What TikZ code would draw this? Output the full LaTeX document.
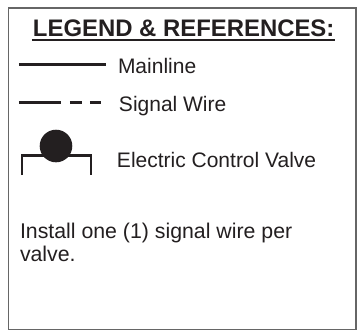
\documentclass[tikz,border=0pt]{standalone}
\usepackage{fontspec}
\setmainfont{Liberation Sans}
\definecolor{ink}{HTML}{231F20}
\tikzset{
  lbl/.style={anchor=base west,inner sep=0pt,outer sep=0pt,text=ink,font=\fontsize{21}{25}\selectfont},
  notetext/.style={lbl,font=\fontsize{21.3}{25}\selectfont},
  ttl/.style={anchor=base west,inner sep=0pt,outer sep=0pt,text=ink,font=\fontsize{23.9}{28}\selectfont\bfseries},
  ln/.style={draw=ink,line width=2.3pt},
  frm/.style={draw=black!60,line width=1.2pt}
}
\begin{document}
\begin{tikzpicture}[x=1pt,y=-1pt]
\useasboundingbox (0,0) rectangle (360,333);
\fill[white] (0,0) rectangle (360,333);
\draw[frm] (8.5,8) rectangle (356,329.5);
\node[ttl] (title) at (33,36.5) {LEGEND \& REFERENCES:};
\coordinate (ua) at (32,40); \coordinate (ub) at (335,40);
\draw[ink,line width=2pt] (ua) -- (ub);
\coordinate (m1) at (19,64.4); \coordinate (m2) at (106,64.4);
\draw[ln] (m1) -- (m2);
\node[lbl] (main) at (118,73) {Mainline};
\coordinate (s1) at (19,102.5); \coordinate (s2) at (61,102.5);
\coordinate (s3) at (70,102.5); \coordinate (s4) at (82,102.5);
\coordinate (s5) at (90,102.5); \coordinate (s6) at (101,102.5);
\draw[ln] (s1) -- (s2) (s3) -- (s4) (s5) -- (s6);
\node[lbl] (sig) at (119,111) {Signal Wire};
\draw[ln] (21.8,175) -- (21.8,155.4) -- (91,155.4) -- (91,175);
\fill[ink] (56,146) circle (16.3);
\node[lbl] (valve) at (117,167.5) {Electric Control Valve};
\node[notetext] (note1) at (20,238.5) {Install one (1) signal wire per};
\node[notetext] (note2) at (20,261.5) {valve.};
\end{tikzpicture}
\end{document}
